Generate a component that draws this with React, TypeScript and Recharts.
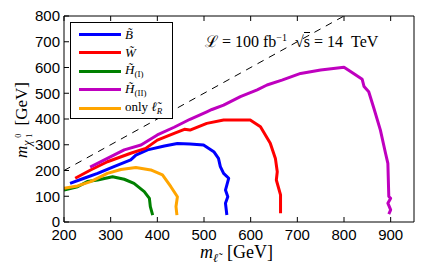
import React from 'react'
import { LineChart, Line, XAxis, YAxis } from 'recharts'

// m_slepton vs m_chi
const bino = [[213, 150], [243, 170], [272, 189], [307, 215], [343, 241], [354, 260], [379, 280], [415, 295], [443, 305], [470, 303], [499, 299], [521, 273], [531, 247], [535, 215], [542, 189], [553, 170], [546, 124], [551, 98], [546, 73], [549, 27]]
const wino = [[224, 170], [257, 202], [293, 234], [343, 267], [375, 286], [400, 318], [436, 344], [458, 360], [470, 357], [506, 383], [542, 396], [599, 396], [621, 370], [642, 306], [653, 247], [657, 195], [655, 163], [664, 105], [664, 34]]
const higgsino1 = [[200, 124], [229, 137], [250, 157], [272, 163], [304, 176], [329, 166], [350, 150], [372, 118], [383, 92], [385, 60], [390, 27]]
const higgsino2 = [[256, 213], [293, 247], [329, 280], [365, 299], [400, 338], [436, 368], [470, 399], [506, 428], [517, 437], [542, 454], [578, 487], [614, 513], [635, 532], [667, 551], [707, 577], [750, 590], [800, 601], [814, 584], [839, 554], [843, 526], [853, 506], [864, 442], [878, 357], [889, 267], [894, 228], [896, 99], [900, 92], [894, 73], [900, 47], [896, 31]]
const onlyR = [[200, 131], [229, 140], [257, 157], [293, 189], [322, 204], [354, 212], [386, 202], [411, 183], [429, 137], [443, 98], [440, 60], [442, 27]]
const diagonal = [[200, 200], [800, 800]]

const xTicks = [200, 300, 400, 500, 600, 700, 800, 900]
const yTicks = [0, 100, 200, 300, 400, 500, 600, 700, 800]

const series = [
  { name: 'bino', pts: bino, color: '#0000ff' },
  { name: 'wino', pts: wino, color: '#ff0000' },
  { name: 'h1', pts: higgsino1, color: '#008000' },
  { name: 'h2', pts: higgsino2, color: '#bf00bf' },
  { name: 'onlyR', pts: onlyR, color: '#ffa500' },
]

const toRows = (pts: number[][]) => pts.map(([x, y]) => ({ x, y }))

const serif = '"Liberation Serif", "DejaVu Serif", serif'
const sans = '"Liberation Sans", Arial, sans-serif'

const subS = { fontSize: 9, verticalAlign: -3 }

const legendLabels: React.ReactNode[] = [
  <span><i>B&#771;</i></span>,
  <span><i>W&#771;</i></span>,
  <span><i>H&#771;</i><span style={subS}>(I)</span></span>,
  <span><i>H&#771;</i><span style={subS}>(II)</span></span>,
  <span>only <i>ℓ&#771;</i><span style={subS}><i>R</i></span></span>,
]

export default function App() {
  return (
    <div style={{ position: 'relative', width: 425, height: 273, background: '#fff' }}>
      <style>{'body{margin:0}'}</style>
      <LineChart width={425} height={273} margin={{ top: 15, right: 10, left: 0, bottom: 0 }}>
        <XAxis
          xAxisId="b"
          dataKey="x"
          type="number"
          domain={[200, 950]}
          ticks={xTicks}
          allowDataOverflow
          height={51}
          tickSize={-5}
          tickMargin={12}
          stroke="#000"
          tick={{ fill: '#000', fontSize: 15, fontFamily: sans }}
        />
        <XAxis
          xAxisId="t"
          orientation="top"
          dataKey="x"
          type="number"
          domain={[200, 950]}
          ticks={xTicks}
          allowDataOverflow
          height={1}
          tickSize={-5}
          stroke="#000"
          tick={() => <g />}
        />
        <YAxis
          yAxisId="l"
          dataKey="y"
          type="number"
          domain={[0, 800]}
          ticks={yTicks}
          allowDataOverflow
          width={64}
          tickSize={-5}
          tickMargin={9}
          stroke="#000"
          tick={{ fill: '#000', fontSize: 15, fontFamily: sans }}
        />
        <YAxis
          yAxisId="r"
          orientation="right"
          type="number"
          domain={[0, 800]}
          ticks={yTicks}
          width={1}
          tickSize={-5}
          stroke="#000"
          tick={() => <g />}
        />
        <Line
          xAxisId="b"
          yAxisId="l"
          data={toRows(diagonal)}
          dataKey="y"
          stroke="#000"
          strokeWidth={1}
          strokeDasharray="7 6"
          dot={false}
          isAnimationActive={false}
        />
        {series.map(s => (
          <Line
            key={s.name}
            xAxisId="b"
            yAxisId="l"
            data={toRows(s.pts)}
            dataKey="y"
            stroke={s.color}
            strokeWidth={3}
            strokeLinejoin="round"
            dot={false}
            isAnimationActive={false}
          />
        ))}
      </LineChart>

      {/* legend box */}
      <div style={{ position: 'absolute', left: 70, top: 22, width: 101, height: 95, border: '1px solid #000', background: '#fff' }}>
        {series.map((s, i) => (
          <div key={s.name} style={{ position: 'absolute', left: 0, top: 11 + i * 18.5 - 9, height: 18, display: 'flex', alignItems: 'center' }}>
            <div style={{ marginLeft: 8, width: 42, height: 3, background: s.color }} />
            <div style={{ marginLeft: 4, fontFamily: serif, fontSize: 13, lineHeight: 1, color: '#000', whiteSpace: 'nowrap' }}>{legendLabels[i]}</div>
          </div>
        ))}
      </div>

      {/* annotation */}
      <div style={{ position: 'absolute', left: 205, top: 33, fontFamily: serif, fontSize: 16, lineHeight: 1, color: '#000', whiteSpace: 'nowrap' }}>
        ℒ = 100 fb<span style={{ fontSize: 10, verticalAlign: 6 }}>−1</span>&nbsp;&nbsp;√<span style={{ borderTop: '1px solid #000' }}>s</span> = 14&nbsp;&nbsp;TeV
      </div>

      {/* y label */}
      <div style={{ position: 'absolute', left: 22, top: 120, transform: 'translate(-50%, -50%) rotate(-90deg)', fontFamily: serif, fontSize: 17, lineHeight: 1, color: '#000', whiteSpace: 'nowrap' }}>
        <i>m</i>
        <span style={{ display: 'inline-block', position: 'relative', width: 16, height: 10, verticalAlign: -4 }}>
          <i style={{ position: 'absolute', left: 0, top: 0, fontSize: 12 }}>χ</i>
          <span style={{ position: 'absolute', left: 8, top: -6, fontSize: 8 }}>0</span>
          <span style={{ position: 'absolute', left: 8, top: 5, fontSize: 8 }}>1</span>
        </span>
        &nbsp;[GeV]
      </div>

      {/* x label */}
      <div style={{ position: 'absolute', left: 200, top: 243, fontFamily: serif, fontSize: 18, lineHeight: 1, color: '#000', whiteSpace: 'nowrap' }}>
        <i>m</i><span style={{ fontSize: 12, verticalAlign: -4 }}><i>ℓ&#771;</i></span>&nbsp;&nbsp;[GeV]
      </div>
    </div>
  )
}
